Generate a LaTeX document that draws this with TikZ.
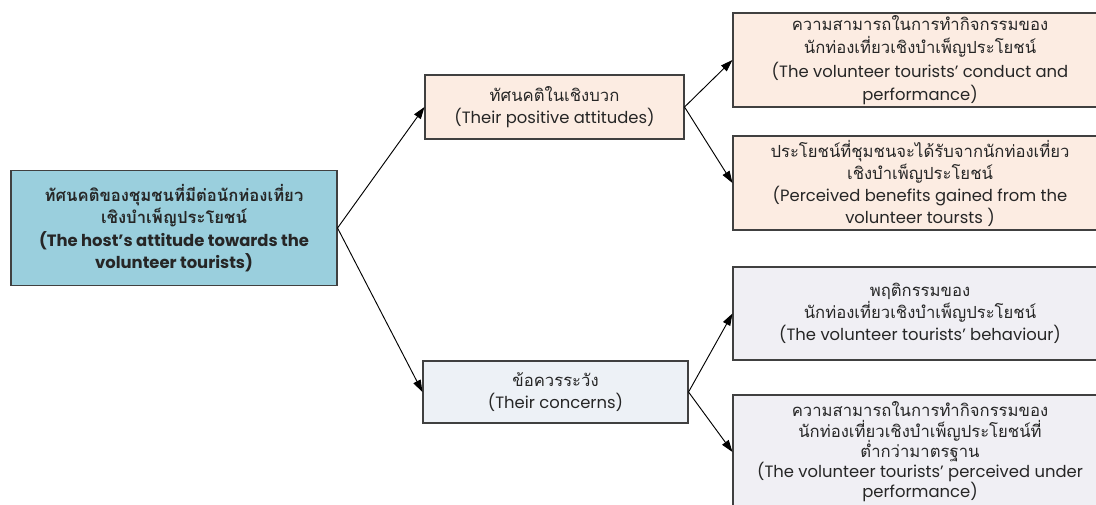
\documentclass[tikz,border=0pt]{standalone}
\usepackage{fontspec}
\newfontfamily\thaifont[Script=Thai]{Loma}
\newfontfamily\latfont{Poppins}
\newcommand{\engl}[1]{{\latfont\fontsize{12.3}{16.5}\selectfont #1}}
\newcommand{\noskip}{\lineskiplimit=-20pt\relax}
\usetikzlibrary{arrows.meta}
\definecolor{hostblue}{RGB}{154,207,221}
\definecolor{peach}{RGB}{252,236,226}
\definecolor{paleblue}{RGB}{237,241,246}
\definecolor{palelav}{RGB}{240,239,244}
\definecolor{edgegray}{RGB}{64,64,64}
\tikzset{
  box/.style={draw=edgegray, line width=0.8pt, align=center, inner sep=0pt,
    font=\thaifont\fontsize{12.5}{16.5}\selectfont\noskip, text=black!85},
  conn/.style={draw=black, line width=0.7pt, -{Triangle[length=9pt,width=6pt]}}
}
\begin{document}
\begin{tikzpicture}[x=0.75pt,y=-0.75pt]
\useasboundingbox (0,0) rectangle (1096,504);
\clip (0,0) rectangle (1096,504);
\fill[white] (0,0) rectangle (1096,504);
\node[box, fill=hostblue, minimum width={326*0.75pt}, minimum height={115*0.75pt},
  font=\thaifont\bfseries\fontsize{12.5}{16.8}\selectfont\noskip] (host) at (174,228)
  {ทัศนคติของชุมชนที่มีต่อนักท่องเที่ยว\\เชิงบำเพ็ญประโยชน์\\\engl{\bfseries (The host’s attitude towards the}\\\engl{\bfseries volunteer tourists)}};
\node[box, fill=peach, minimum width={259*0.75pt}, minimum height={64*0.75pt}] (pos) at (554.5,107)
  {ทัศนคติในเชิงบวก\\\engl{(Their positive attitudes)}};
\node[box, fill=paleblue, minimum width={265*0.75pt}, minimum height={62*0.75pt}] (con) at (555.5,392)
  {ข้อควรระวัง\\\engl{(Their concerns)}};
\node[box, fill=peach, minimum width={374*0.75pt}, minimum height={94*0.75pt},
  font=\thaifont\fontsize{12.5}{17.5}\selectfont\noskip] (r1) at (920,60)
  {ความสามารถในการทำกิจกรรมของ\\นักท่องเที่ยวเชิงบำเพ็ญประโยชน์\\\engl{(The volunteer tourists’ conduct and}\\\engl{performance)}};
\node[box, fill=peach, minimum width={374*0.75pt}, minimum height={94*0.75pt}] (r2) at (920,183)
  {ประโยชน์ที่ชุมชนจะได้รับจากนักท่องเที่ยว\\เชิงบำเพ็ญประโยชน์\\\engl{(Perceived benefits gained from the}\\\engl{volunteer toursts )}};
\node[box, fill=palelav, minimum width={374*0.75pt}, minimum height={93*0.75pt}] (r3) at (920,313.5)
  {พฤติกรรมของ\\นักท่องเที่ยวเชิงบำเพ็ญประโยชน์\\\engl{(The volunteer tourists’ behaviour)}};
\node[box, fill=palelav, minimum width={374*0.75pt}, minimum height={114*0.75pt},
  font=\thaifont\fontsize{12.5}{15.2}\selectfont\noskip] (r4) at (920,452)
  {ความสามารถในการทำกิจกรรมของ\\นักท่องเที่ยวเชิงบำเพ็ญประโยชน์ที่\\ต่ำกว่ามาตรฐาน\\\engl{(The volunteer tourists’ perceived under}\\\engl{performance)}};
\draw[conn] (host.east) -- (pos.west);
\draw[conn] (host.east) -- (con.west);
\draw[conn] (pos.east) -- (r1.west);
\draw[conn] (pos.east) -- (r2.west);
\draw[conn] (con.east) -- (r3.west);
\draw[conn] (con.east) -- (r4.west);
\end{tikzpicture}
\end{document}
